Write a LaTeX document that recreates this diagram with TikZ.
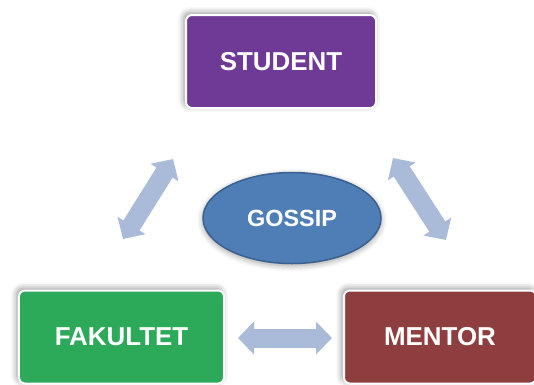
\documentclass[tikz,border=0pt]{standalone}
\usepackage{fontspec}
\setmainfont{Liberation Sans}
\usetikzlibrary{shapes.geometric, arrows.meta, shadows.blur}
\definecolor{studentpurple}{HTML}{6E3A96}
\definecolor{fakultetgreen}{HTML}{2DA95A}
\definecolor{mentorred}{HTML}{8E3E3E}
\definecolor{gossipblue}{HTML}{4F7EB7}
\definecolor{gossipedge}{HTML}{3A6090}
\definecolor{arrowblue}{HTML}{A9BBD8}

\begin{document}
\begin{tikzpicture}[x=1bp, y=-1bp, align=center,
	main/.style = {draw=white, line width=2bp, rounded corners=6bp, minimum height=93bp, text=white, font=\bfseries\fontsize{26}{30}\selectfont, blur shadow={shadow xshift=-2bp, shadow yshift=2bp, shadow blur radius=6bp, shadow opacity=45}},
	talk/.style = {draw=arrowblue, line width=19bp, {Triangle[width=32bp, length=16bp]}-{Triangle[width=32bp, length=16bp]}}]
	\useasboundingbox (0,0) rectangle (534,384);
	\clip (0,0) rectangle (534,384);
	\node[main, fill = studentpurple, minimum width = 190bp] (student) at (281,61.5) {STUDENT};
	\node[main, fill = fakultetgreen, minimum width = 205bp] (fakultet) at (121.5,337) {FAKULTET};
	\node[main, fill = mentorred, minimum width = 192bp] (mentor) at (440,337) {MENTOR};
	\node[ellipse, fill = gossipblue, draw = gossipedge, line width=1.5bp, inner sep=0pt, minimum width = 178bp, minimum height = 91bp, text=white, font=\bfseries\fontsize{23.5}{28}\selectfont, blur shadow={shadow xshift=0bp, shadow yshift=-2bp, shadow blur radius=6bp, shadow opacity=40}] (gossip) at (292,218) {GOSSIP};
	\coordinate (fs1) at (123,239);
	\coordinate (fs2) at (173,159);
	\coordinate (sm1) at (393,158);
	\coordinate (sm2) at (446,240);
	\coordinate (fm1) at (238,338);
	\coordinate (fm2) at (332,338);
	\draw[talk] (fs1) -- (fs2);
	\draw[talk] (sm1) -- (sm2);
	\draw[talk] (fm1) -- (fm2);
\end{tikzpicture}
\end{document}
